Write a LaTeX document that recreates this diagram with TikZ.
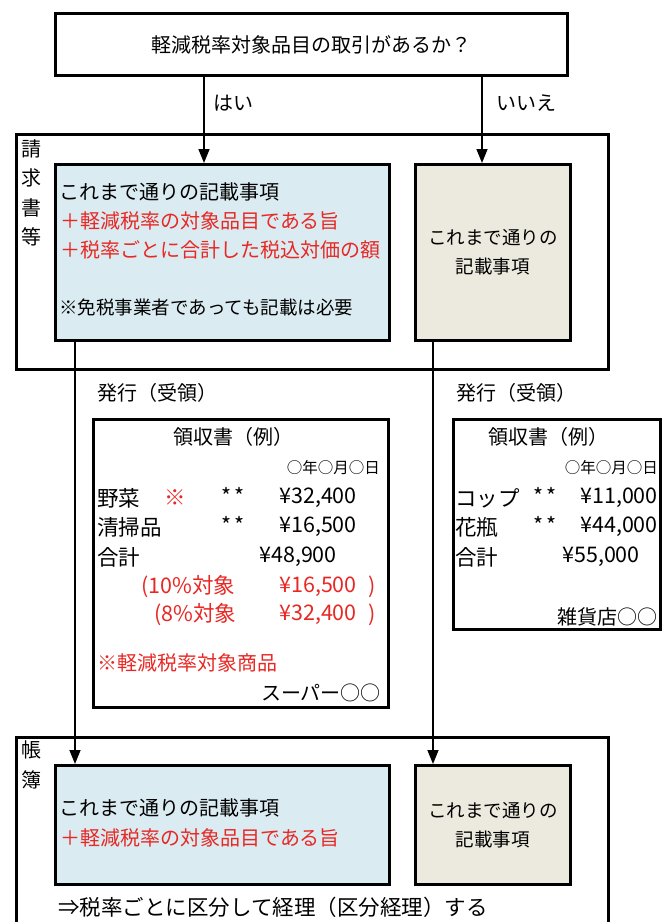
\documentclass[tikz,border=0pt]{standalone}
\usepackage{fontspec}
\setmainfont{Noto Sans CJK JP}
\usetikzlibrary{arrows.meta}
\definecolor{jred}{RGB}{232,40,36}
\definecolor{lblue}{RGB}{218,235,241}
\definecolor{lbeige}{RGB}{236,233,222}
\begin{document}
\begin{tikzpicture}[x=1pt,y=-1pt,
  frame/.style={draw, line width=3pt, anchor=north west, inner sep=0pt},
  box/.style={draw, line width=2.6pt, anchor=north west, inner sep=0pt},
  txt/.style={inner sep=0pt, font=\fontsize{20}{29}\selectfont},
  btxt/.style={inner sep=0pt, font=\fontsize{18.5}{29}\selectfont},
  vtxt/.style={inner sep=0pt, font=\fontsize{20}{29.5}\selectfont},
  itm/.style={inner sep=0pt, font=\fontsize{21.5}{26}\selectfont},
  sml/.style={inner sep=0pt, font=\fontsize{15.5}{18}\selectfont},
  red/.style={text=jred},
  arr/.style={line width=1.5pt, -{Triangle[length=14pt,width=11pt]}}]
\clip (0,0) rectangle (671,922);
\fill[white] (0,0) rectangle (671,922);
% question
\node[frame, minimum width=512pt, minimum height=62pt, txt] (q) at (54,12) {軽減税率対象品目の取引があるか？};
% invoice frame
\node[frame, minimum width=592pt, minimum height=235pt] (f1) at (15,133) {};
\node[vtxt, align=center, anchor=north] (v1) at (31,139) {請\\求\\書\\等};
\node[box, fill=lblue, minimum width=334pt, minimum height=176pt] (b1) at (54,163) {};
\node[box, fill=lbeige, minimum width=155pt, minimum height=176pt, btxt, align=center] (c1) at (414,163) {これまで通りの\\記載事項};
\node[txt, anchor=west] (b1t1) at (59,192) {これまで通りの記載事項};
\node[txt, red, anchor=west] (b1t2) at (60,221) {＋軽減税率の対象品目である旨};
\node[txt, red, anchor=west] (b1t3) at (60,250) {＋税率ごとに合計した税込対価の額};
\node[btxt, anchor=west] (b1t4) at (59,307) {※免税事業者であっても記載は必要};
% yes/no
\coordinate (hx) at (204,0);
\coordinate (ix) at (482,0);
\draw[arr] (q.south -| hx) -- (b1.north -| hx);
\draw[arr] (q.south -| ix) -- (c1.north -| ix);
\node[txt, anchor=west] (hai) at (213,103) {はい};
\node[txt, anchor=west] (iie) at (496,103) {いいえ};
% issue labels
\node[txt, anchor=west] (h1) at (97,393) {発行（受領）};
\node[txt, anchor=west] (h2) at (456,393) {発行（受領）};
% receipt 1
\node[frame, minimum width=295pt, minimum height=288pt] (r1) at (92,418) {};
\node[txt] (r1t) at (233,437) {領収書（例）};
\node[sml, anchor=east] (r1d) at (380,468) {○年○月○日};
\node[itm, anchor=west] (r1a) at (97,498) {野菜};
\node[itm, red, anchor=west] (r1am) at (164,498) {※};
\node[itm, anchor=west] (r1as) at (221,496) {*\,*};
\node[itm, anchor=east] (r1ap) at (357,498) {¥32,400};
\node[itm, anchor=west] (r1b) at (97,527) {清掃品};
\node[itm, anchor=west] (r1bs) at (221,525) {*\,*};
\node[itm, anchor=east] (r1bp) at (357,527) {¥16,500};
\node[itm, anchor=west] (r1c) at (97,557) {合計};
\node[itm, anchor=east] (r1cp) at (337,557) {¥48,900};
\node[itm, red, anchor=west] (r1d1) at (141,587) {(10\%対象};
\node[itm, red, anchor=east] (r1d2) at (357,587) {¥16,500};
\node[itm, red] (r1d3) at (372,587) {)};
\node[itm, red, anchor=west] (r1e1) at (154,615) {(8\%対象};
\node[itm, red, anchor=east] (r1e2) at (357,615) {¥32,400};
\node[itm, red] (r1e3) at (372,615) {)};
\node[txt, red, anchor=west] (r1n) at (97,663) {※軽減税率対象商品};
\node[txt, anchor=east] (r1s) at (381,693) {スーパー○○};
% receipt 2
\node[frame, minimum width=207pt, minimum height=210pt] (r2) at (452,418) {};
\node[txt] (r2t) at (548,437) {領収書（例）};
\node[sml, anchor=east] (r2d) at (658,468) {○年○月○日};
\node[itm, anchor=west] (r2a) at (455,498) {コップ};
\node[itm, anchor=west] (r2as) at (533,496) {*\,*};
\node[itm, anchor=east] (r2ap) at (658,498) {¥11,000};
\node[itm, anchor=west] (r2b) at (455,527) {花瓶};
\node[itm, anchor=west] (r2bs) at (533,525) {*\,*};
\node[itm, anchor=east] (r2bp) at (658,527) {¥44,000};
\node[itm, anchor=west] (r2c) at (455,557) {合計};
\node[itm, anchor=east] (r2cp) at (640,557) {¥55,000};
\node[txt, anchor=east] (r2s) at (658,617) {雑貨店○○};
% ledger frame
\node[frame, minimum width=592pt, minimum height=230pt] (f2) at (15,736) {};
\node[vtxt, align=center, anchor=north] (v2) at (31,741) {帳\\簿};
\node[box, fill=lblue, minimum width=334pt, minimum height=119pt] (b2) at (54,764) {};
\node[box, fill=lbeige, minimum width=155pt, minimum height=119pt, btxt, align=center] (c2) at (414,764) {これまで通りの\\記載事項};
\node[txt, anchor=west] (b2t1) at (59,808) {これまで通りの記載事項};
\node[txt, red, anchor=west] (b2t2) at (60,838) {＋軽減税率の対象品目である旨};
\node[inner sep=0pt, font=\fontsize{21.5}{26}\selectfont, anchor=west] (f2t) at (58,907) {⇒税率ごとに区分して経理（区分経理）する};
% connectors
\coordinate (lx) at (75,0);
\coordinate (rx) at (433,0);
\draw[arr] (b1.south -| lx) -- (b2.north -| lx);
\draw[arr] (c1.south -| rx) -- (c2.north -| rx);
\end{tikzpicture}
\end{document}
